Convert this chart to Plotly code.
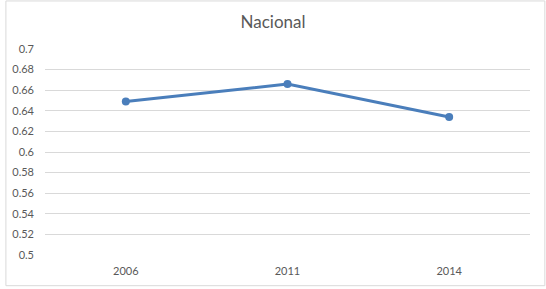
import plotly.graph_objects as go

years = ["2006", "2011", "2014"]
values = [0.649, 0.666, 0.634]
y_ticks = [0.5, 0.52, 0.54, 0.56, 0.58, 0.6, 0.62, 0.64, 0.66, 0.68, 0.7]
y_tick_labels = ["0.5", "0.52", "0.54", "0.56", "0.58", "0.6", "0.62", "0.64", "0.66", "0.68", "0.7"]

fig = go.Figure()
fig.add_trace(go.Scatter(
    x=years, y=values, mode="lines+markers",
    line=dict(color="#4A7EBB", width=3),
    marker=dict(color="#4A7EBB", size=8),
    showlegend=False, hoverinfo="skip",
))

fig.update_layout(
    width=546, height=289,
    margin=dict(l=40, r=16, t=49, b=32),
    paper_bgcolor="white", plot_bgcolor="white",
    font=dict(family="Lato, Liberation Sans, sans-serif", color="#595959", size=11),
    title=dict(text="Nacional", x=0.5, xanchor="center", y=0.925, yanchor="middle",
               font=dict(size=17, color="#595959")),
    xaxis=dict(type="category", range=[-0.5, 2.5], showgrid=False, zeroline=False,
               showline=False, ticks="", ticklabelstandoff=8, fixedrange=True),
    yaxis=dict(range=[0.5, 0.7], tickvals=y_ticks, ticktext=y_tick_labels,
               showgrid=True, gridcolor="#D9D9D9", gridwidth=1, zeroline=False,
               showline=False, ticks="", ticklabelstandoff=10, fixedrange=True),
    shapes=[dict(type="rect", xref="paper", yref="paper", x0=-39.5/490, x1=1+15/490,
                 y0=-31/208, y1=1+48.5/208, line=dict(color="#D9D9D9", width=1))],
)

fig.write_html("out.html", config={"displayModeBar": False},
               post_script="document.body.style.margin='0';")
